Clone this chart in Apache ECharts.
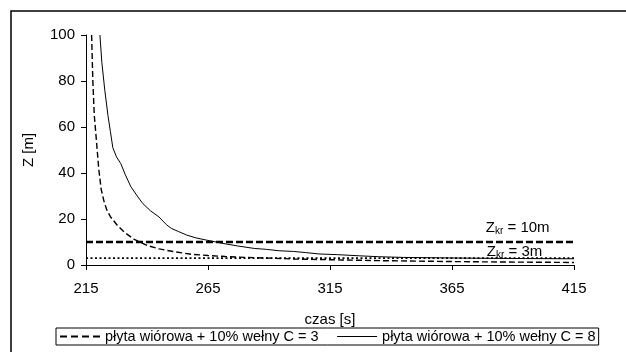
<!DOCTYPE html>
<html>
<head>
<meta charset="utf-8">
<script src="https://cdn.jsdelivr.net/npm/echarts@6/dist/echarts.min.js"></script>
<style>html,body{margin:0;padding:0;background:#fff}#c{width:626px;height:352px}</style>
</head>
<body>
<div id="c"></div>
<script>
// ---- data ----
var xTicks = [215, 265, 315, 365, 415];
var yTicks = [0, 20, 40, 60, 80, 100];

var nameC3 = 'płyta wiórowa + 10% wełny C = 3';
var timeC3 = [217.3, 217.8, 218.4, 219.2, 220.2, 221.2, 222.3, 223.5, 225, 228, 231, 235, 240, 245, 251, 258, 265, 272, 280, 290, 300, 320, 335, 350, 365, 380, 400, 415];
var zC3    = [100, 80, 65, 55, 42, 33, 28, 24, 21, 17, 14, 11, 8.5, 7, 5.8, 4.7, 4.1, 3.7, 3.3, 3.0, 2.6, 2.2, 1.9, 1.7, 1.5, 1.35, 1.2, 1.1];

var nameC8 = 'płyta wiórowa + 10% wełny C = 8';
var timeC8 = [220.7, 221.5, 222.7, 224, 225, 226, 227.5, 229.3, 231, 233.4, 236, 238.3, 241.5, 244.9, 248, 250, 253, 256.3, 260, 264.5, 271, 277, 284, 289, 294, 300, 305, 310.5, 318, 327, 335, 345, 360, 380, 395, 415];
var zC8    = [100, 88, 76, 65, 58, 51, 47, 44, 39.5, 34, 30, 26.7, 23.5, 20.9, 17.5, 15.9, 14.5, 13, 11.8, 10.8, 9.4, 8.3, 7.2, 6.8, 6.2, 5.9, 5.4, 4.8, 4.5, 4.0, 3.6, 3.3, 3.1, 2.9, 2.8, 2.7];

var zKr10 = 10;
var zKr3 = 3;
var label10 = 'Z_kr = 10m';
var label3 = 'Z_kr = 3m';
// --------------------------------------

function pairs(xs, ys) { return xs.map(function (x, i) { return [x, ys[i]]; }); }

var FONT = '"Liberation Sans", Arial, sans-serif';
var chart = echarts.init(document.getElementById('c'), null, { renderer: 'canvas' });

var option = {
  animation: false,
  backgroundColor: '#fff',
  color: ['#000', '#000', '#000', '#000'],
  textStyle: { fontFamily: FONT, color: '#000' },
  grid: { left: 86, right: 52, top: 35, bottom: 87 },
  xAxis: {
    type: 'value', min: xTicks[0], max: xTicks[xTicks.length - 1],
    name: 'czas [s]', nameLocation: 'middle', nameGap: 47,
    nameTextStyle: { fontFamily: FONT, fontSize: 15, color: '#000' },
    axisLine: { onZero: false, lineStyle: { color: '#000', width: 1 } },
    axisTick: { show: true, length: 5, customValues: xTicks, lineStyle: { color: '#000' } },
    axisLabel: { customValues: xTicks, margin: 16, fontFamily: FONT, fontSize: 15, color: '#000' },
    splitLine: { show: false }
  },
  yAxis: {
    type: 'value', min: 0, max: 100, interval: 20,
    name: 'Z [m]', nameLocation: 'middle', nameGap: 50, nameRotate: 90,
    nameTextStyle: { fontFamily: FONT, fontSize: 15, color: '#000' },
    axisLine: { show: true, lineStyle: { color: '#000', width: 1 } },
    axisTick: { show: true, length: 5, lineStyle: { color: '#000' } },
    axisLabel: { margin: 11, fontFamily: FONT, fontSize: 15, color: '#000' },
    splitLine: { show: false }
  },
  legend: {
    left: 56, top: 328, width: 560,
    orient: 'horizontal',
    itemWidth: 40, itemHeight: 14, itemGap: 18,
    padding: [1, 3],
    borderColor: '#000', borderWidth: 1,
    itemStyle: { opacity: 0 },
    textStyle: { fontFamily: FONT, fontSize: 14.5, color: '#000' },
    data: [
      { name: nameC3, itemStyle: { opacity: 0 }, lineStyle: { color: '#000', width: 2, type: [7, 4] } },
      { name: nameC8, itemStyle: { opacity: 0 }, lineStyle: { color: '#000', width: 1, type: 'solid' } }
    ]
  },
  series: [
    {
      name: 'Zkr10', type: 'line', data: [[xTicks[0], zKr10], [xTicks[xTicks.length - 1], zKr10]],
      symbol: 'none', silent: true, z: 3,
      lineStyle: { color: '#000', width: 2.5, type: [7, 3] }
    },
    {
      name: 'Zkr3', type: 'line', data: [[xTicks[0], zKr3], [xTicks[xTicks.length - 1], zKr3]],
      symbol: 'none', silent: true, z: 3,
      lineStyle: { color: '#000', width: 1.6, type: [2, 2.5] }
    },
    {
      name: nameC3, type: 'line', data: pairs(timeC3, zC3),
      symbol: 'none', smooth: false, z: 4,
      itemStyle: { color: '#000' },
      lineStyle: { color: '#000', width: 1.4, type: [6, 3] }
    },
    {
      name: nameC8, type: 'line', data: pairs(timeC8, zC8),
      symbol: 'none', smooth: false, z: 4,
      itemStyle: { color: '#000' },
      lineStyle: { color: '#000', width: 1 }
    }
  ]
};
chart.setOption(option);

function richLabel(txt) {
  var p = txt.split('_');
  var rest = p[1];
  var sub = rest.split(' ')[0];
  var tail = rest.slice(sub.length);
  return '{z|' + p[0] + '}{s|' + sub + '}{z|' + tail + '}';
}
var rich = {
  z: { fontFamily: FONT, fontSize: 15, color: '#000', lineHeight: 16 },
  s: { fontFamily: FONT, fontSize: 10, color: '#000', lineHeight: 16, verticalAlign: 'bottom', padding: [6, 0, 0, 0] }
};
var p10 = chart.convertToPixel({ gridIndex: 0 }, [405, 16.1]);
var p3 = chart.convertToPixel({ gridIndex: 0 }, [402, 5.6]);
chart.setOption({
  graphic: [
    { type: 'rect', silent: true, shape: { x: 11, y: 11, width: 700, height: 400 },
      style: { fill: 'none', stroke: '#000', lineWidth: 1.5 } },
    { type: 'text', x: p10[0], y: p10[1], silent: true,
      style: { text: richLabel(label10), rich: rich, align: 'right', verticalAlign: 'middle' } },
    { type: 'text', x: p3[0], y: p3[1], silent: true,
      style: { text: richLabel(label3), rich: rich, align: 'right', verticalAlign: 'middle' } }
  ]
});
</script>
</body>
</html>
